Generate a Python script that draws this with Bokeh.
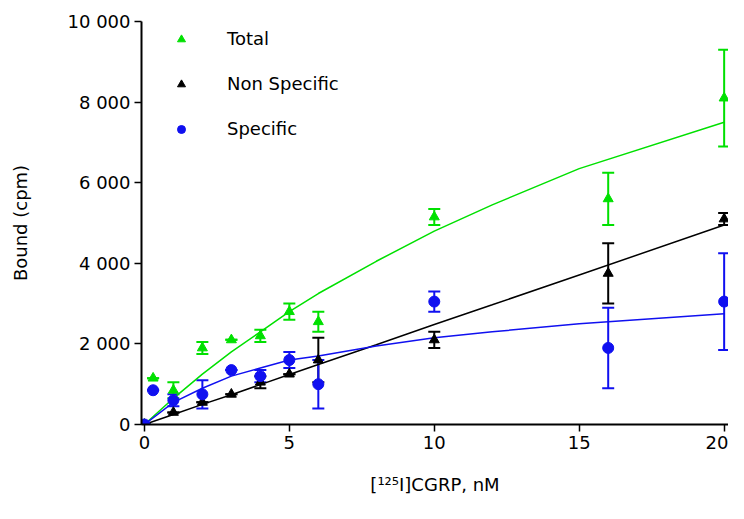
from bokeh.plotting import figure
from bokeh.models import Whisker, ColumnDataSource, Legend, LegendItem
from bokeh.embed import file_html
from bokeh.resources import INLINE

# measured points
conc_tot = [0, 0.3, 1, 2, 3, 4, 5, 6, 10, 16, 20]
total = [0, 1150, 850, 1900, 2100, 2200, 2800, 2550, 5150, 5600, 8100]
total_err = [0, 0, 200, 150, 0, 150, 200, 250, 200, 650, 1200]

conc_ns = [0, 1, 2, 3, 4, 5, 6, 10, 16, 20]
nonspec = [0, 300, 550, 750, 1050, 1250, 1600, 2100, 3750, 5100]
nonspec_err = [0, 0, 0, 0, 150, 0, 550, 200, 750, 150]

conc_sp = [0, 0.3, 1, 2, 3, 4, 5, 6, 10, 16, 20]
specific = [0, 850, 600, 750, 1350, 1200, 1600, 1000, 3050, 1900, 3050]
specific_err = [0, 0, 150, 350, 0, 150, 200, 600, 250, 1000, 1200]

# fitted curves
fit_x = [0, 1, 2, 3, 4, 5, 6, 8, 10, 12, 15, 20]
fit_total = [0, 650, 1250, 1800, 2300, 2800, 3250, 4050, 4800, 5450, 6350, 7500]
fit_nonspec = [0, 250, 500, 740, 990, 1240, 1490, 1980, 2480, 2970, 3710, 4950]
fit_specific = [0, 550, 900, 1200, 1400, 1600, 1700, 1950, 2150, 2300, 2500, 2750]

y_ticks = [0, 2000, 4000, 6000, 8000, 10000]
y_labels = {0: "0", 2000: "2 000", 4000: "4 000", 6000: "6 000", 8000: "8 000", 10000: "10 000"}

GREEN = "#00e000"
BLACK = "#000000"
BLUE = "#1010f0"
FONT = "DejaVu Sans"

p = figure(width=728, height=503, x_range=(-0.1, 20.15), y_range=(0, 10000),
           output_backend="svg", toolbar_location=None,
           x_axis_label="[¹²⁵I]CGRP, nM", y_axis_label="Bound (cpm)")
p.grid.visible = False
p.outline_line_color = None
p.min_border_left = 141
p.min_border_right = 0
p.min_border_top = 21
p.min_border_bottom = 79

for ax in (p.xaxis, p.yaxis):
    ax.axis_line_width = 2
    ax.axis_line_color = "black"
    ax.major_tick_line_color = "black"
    ax.major_tick_line_width = 1.5
    ax.major_tick_out = 7
    ax.major_tick_in = 0
    ax.major_label_standoff = 4
    ax.minor_tick_line_color = None
    ax.major_label_text_font = FONT
    ax.major_label_text_font_size = "18px"
    ax.major_label_text_color = "black"
    ax.axis_label_text_font = FONT
    ax.axis_label_text_font_size = "18px"
    ax.axis_label_text_font_style = "normal"
    ax.axis_label_text_color = "black"
p.xaxis.ticker = [0, 5, 10, 15, 20]
p.xaxis.axis_label_standoff = 22
p.yaxis.axis_label_standoff = 34
p.yaxis.ticker = y_ticks
p.yaxis.major_label_overrides = y_labels

p.line(fit_x, fit_total, color=GREEN, line_width=1.5)
p.line(fit_x, fit_nonspec, color=BLACK, line_width=1.5)
p.line(fit_x, fit_specific, color=BLUE, line_width=1.5)

rs = []
for xs, ys, es, col, marker in [
    (conc_tot, total, total_err, GREEN, "triangle"),
    (conc_ns, nonspec, nonspec_err, BLACK, "triangle"),
    (conc_sp, specific, specific_err, BLUE, "circle"),
]:
    src = ColumnDataSource(dict(x=xs, y=ys,
                                lo=[a - b for a, b in zip(ys, es)],
                                hi=[a + b for a, b in zip(ys, es)]))
    w = Whisker(source=src, base="x", lower="lo", upper="hi", line_color=col, line_width=2)
    w.upper_head.line_color = col
    w.lower_head.line_color = col
    w.upper_head.size = 12
    w.lower_head.size = 12
    w.upper_head.line_width = 2
    w.lower_head.line_width = 2
    p.add_layout(w)
    r = p.scatter("x", "y", source=src, marker=marker, size=10 if marker == "triangle" else 11,
                  color=col)
    rs.append(r)

legend = Legend(items=[LegendItem(label="Total", renderers=[rs[0]]),
                       LegendItem(label="Non Specific", renderers=[rs[1]]),
                       LegendItem(label="Specific", renderers=[rs[2]])],
                location=(30, 285))
legend.border_line_color = None
legend.background_fill_alpha = 0
legend.label_text_font = FONT
legend.label_text_font_size = "18px"
legend.label_text_color = "black"
legend.spacing = 24
legend.glyph_width = 20
legend.label_standoff = 36
legend.margin = 0
legend.padding = 0
p.add_layout(legend)

open("out.html", "w").write(file_html(p, INLINE))
